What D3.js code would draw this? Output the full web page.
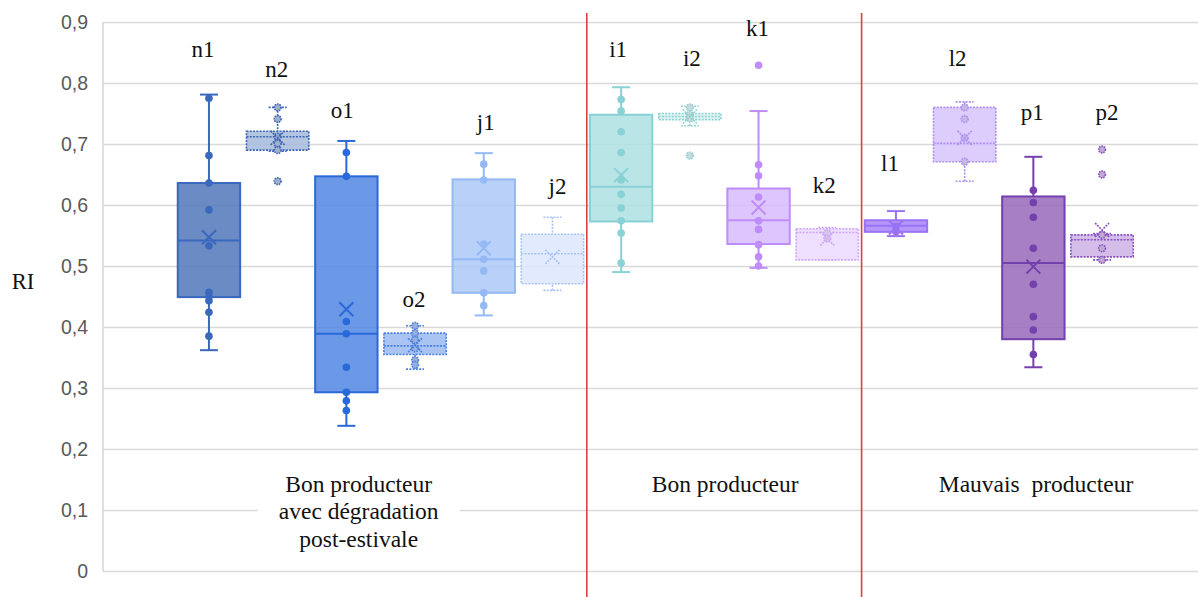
<!DOCTYPE html>
<html>
<head>
<meta charset="utf-8">
<script src="https://cdn.jsdelivr.net/npm/d3@7"></script>
<style>
  html, body { margin: 0; padding: 0; background: #ffffff; }
  svg { display: block; }
  .serif { font-family: "Liberation Serif", "Times New Roman", Times, "DejaVu Serif", serif; fill: #111; }
  .sans { font-family: "Liberation Sans", Arial, Helvetica, sans-serif; }
</style>
</head>
<body>
<svg id="chart" width="1198" height="597"></svg>
<script>
// ---------------- data ----------------
const ids = ["n1","n2","o1","o2","j1","j2","i1","i2","k1","k2","l1","l2","p1","p2"];
const groupNames = [
  ["Bon producteur", "avec dégradation", "post-estivale"],
  ["Bon producteur"],
  ["Mauvais  producteur"]
];
const groupOf = [0,0,0,0,0,0,1,1,1,1,2,2,2,2];
const whiskerLow  = [0.362, 0.688, 0.238, 0.331, 0.419, 0.460, 0.490, 0.730, 0.497, 0.510, 0.549, 0.639, 0.334, 0.510];
const q1          = [0.449, 0.690, 0.293, 0.355, 0.456, 0.471, 0.573, 0.740, 0.536, 0.510, 0.556, 0.671, 0.380, 0.515];
const medians     = [0.542, 0.712, 0.389, 0.369, 0.511, 0.520, 0.630, 0.745, 0.575, 0.555, 0.566, 0.701, 0.505, 0.543];
const q3          = [0.636, 0.721, 0.647, 0.390, 0.642, 0.552, 0.748, 0.750, 0.627, 0.561, 0.575, 0.760, 0.614, 0.551];
const whiskerHigh = [0.781, 0.760, 0.705, 0.402, 0.685, 0.580, 0.793, 0.762, 0.754, 0.563, 0.590, 0.769, 0.679, 0.553];
const means       = [0.547, 0.710, 0.429, 0.370, 0.529, 0.515, 0.649, 0.745, 0.596, 0.545, 0.563, 0.710, 0.499, 0.559];
const points = [
  [0.775, 0.681, 0.636, 0.592, 0.533, 0.457, 0.450, 0.443, 0.424, 0.385],
  [0.760, 0.741, 0.712, 0.701, 0.690, 0.639],
  [0.686, 0.647, 0.409, 0.389, 0.334, 0.293, 0.279, 0.263],
  [0.402, 0.390, 0.379, 0.365, 0.346, 0.338],
  [0.667, 0.641, 0.536, 0.511, 0.492, 0.456, 0.435],
  [],
  [0.773, 0.754, 0.720, 0.686, 0.641, 0.6175, 0.595, 0.574, 0.554, 0.505],
  [0.760, 0.748, 0.742, 0.681],
  [0.829, 0.666, 0.648, 0.613, 0.574, 0.560, 0.535, 0.515, 0.500],
  [0.554, 0.545],
  [0.565, 0.556],
  [0.760, 0.741, 0.710, 0.671],
  [0.624, 0.604, 0.580, 0.529, 0.470, 0.417, 0.395, 0.355],
  [0.691, 0.650, 0.551, 0.529, 0.510]
];
const tickValues = [0, 0.1, 0.2, 0.3, 0.4, 0.5, 0.6, 0.7, 0.8, 0.9];
const tickLabels = ["0", "0,1", "0,2", "0,3", "0,4", "0,5", "0,6", "0,7", "0,8", "0,9"];
const yTitle = "RI";

// ---------------- annotation placement (label value height, dx) ----------------
const labelAt = [0.842, 0.810, 0.742, 0.433, 0.723, 0.618, 0.842, 0.828, 0.877, 0.620, 0.655, 0.828, 0.740, 0.740];
const labelDx = [-6, -1, -4, -1, 2, 5, -3, 2, -1, -3, -6, -7, -1, 5];
const groupLabelDx = [-22, 1, 37];

// ---------------- styles ----------------
const fillObs   = ["#6a8bc4","#b3c3e2","#6b99e8","#a9c3f2","#b9d1f9","#e1ebfd","#b9e5e7","#dff3f3","#ddc6fd","#eedffe","#b597f9","#dccdfd","#a77fc4","#d5bde9"];
const strokeCol = ["#3a68bd","#3a64b4","#2a69da","#4a80e2","#95b9f5","#a6c3f5","#88d1d4","#8ed2d4","#bf8cf9","#cfa6fb","#9a72f5","#ad8ef2","#7440ad","#8650bf"];
const dotted    = [false,true,false,true,false,true,false,true,false,true,false,true,false,true];
const fillAlpha = 0.85;

// ---------------- layout ----------------
const W = 1198, H = 597;
const plotLeft = 103, plotRight = 1198, plotTop = 22, plotBottom = 571;
const svg = d3.select("#chart");

const y = d3.scaleLinear().domain([0, 0.9]).range([plotBottom, plotTop]);
const x = d3.scaleBand().domain(ids).range([174.6, 1136.4]).paddingInner(0).paddingOuter(0);
const step = x.step();
const boxW = step * 0.908;
const capW = 18;
const cx = id => x(id) + step / 2;

function baseColor(obs) {
  const c = d3.rgb(obs);
  const f = v => Math.max(0, Math.min(255, (v - 255 * (1 - fillAlpha)) / fillAlpha));
  return d3.rgb(f(c.r), f(c.g), f(c.b)).formatHex();
}

// gridlines + tick labels via axis
const axis = d3.axisLeft(y)
  .tickValues(tickValues)
  .tickFormat((d, i) => tickLabels[i])
  .tickSizeInner(-(plotRight - plotLeft))
  .tickSizeOuter(0)
  .tickPadding(15);
const gAxis = svg.append("g").attr("transform", `translate(${plotLeft},0)`).call(axis);
gAxis.attr("font-family", null).attr("font-size", null);
gAxis.select(".domain").remove();
gAxis.selectAll(".tick line").attr("stroke", "#d9d9d9").attr("stroke-width", 1.6);
gAxis.selectAll(".tick text")
  .attr("class", "sans")
  .attr("fill", "#595959")
  .attr("font-size", 19.5);

// left border of plot area
svg.append("line")
  .attr("x1", plotLeft).attr("x2", plotLeft)
  .attr("y1", y(0.9)).attr("y2", y(0))
  .attr("stroke", "#d9d9d9").attr("stroke-width", 1.6);

// y title
svg.append("text").text(yTitle)
  .attr("class", "serif")
  .attr("x", 23).attr("y", 289)
  .attr("text-anchor", "middle")
  .attr("font-size", 22.5);

// group separators (red)
[ids[6], ids[10]].forEach(id => {
  svg.append("line")
    .attr("x1", x(id)).attr("x2", x(id))
    .attr("y1", 13).attr("y2", H)
    .attr("stroke", "#d9403f").attr("stroke-width", 1.6);
});

// group labels
groupNames.forEach((lines, gi) => {
  const members = ids.filter((id, i) => groupOf[i] === gi);
  const gx = (cx(members[0]) + cx(members[members.length - 1])) / 2 + groupLabelDx[gi];
  const lineH = 27.5;
  const baseY = 491.5;
  if (lines.length > 1) {
    svg.append("rect")
      .attr("x", gx - 101).attr("y", 461)
      .attr("width", 202).attr("height", 100)
      .attr("fill", "#ffffff");
  }
  const t = svg.append("text")
    .attr("class", "serif")
    .attr("text-anchor", "middle")
    .attr("font-size", 23.5)
    .attr("xml:space", "preserve");
  lines.forEach((ln, li) => {
    t.append("tspan").attr("x", gx).attr("y", baseY + li * lineH).text(ln);
  });
});

// boxes
ids.forEach((id, i) => {
  const g = svg.append("g");
  const c = cx(id);
  const sc = strokeCol[i];
  const dash = dotted[i] ? "2,1.3" : null;
  const sw = dotted[i] ? 1.6 : 2;

  // whiskers
  [[whiskerHigh[i], q3[i]], [whiskerLow[i], q1[i]]].forEach(([w, q]) => {
    g.append("line").attr("x1", c).attr("x2", c).attr("y1", y(w)).attr("y2", y(q))
      .attr("stroke", sc).attr("stroke-width", sw).attr("stroke-dasharray", dash);
    g.append("line").attr("x1", c - capW / 2).attr("x2", c + capW / 2).attr("y1", y(w)).attr("y2", y(w))
      .attr("stroke", sc).attr("stroke-width", sw).attr("stroke-dasharray", dash);
  });

  // box
  g.append("rect")
    .attr("x", c - boxW / 2).attr("y", y(q3[i]))
    .attr("width", boxW).attr("height", Math.max(1, y(q1[i]) - y(q3[i])))
    .attr("fill", baseColor(fillObs[i])).attr("fill-opacity", fillAlpha)
    .attr("stroke", sc).attr("stroke-width", sw).attr("stroke-dasharray", dash);

  // median
  g.append("line")
    .attr("x1", c - boxW / 2).attr("x2", c + boxW / 2)
    .attr("y1", y(medians[i])).attr("y2", y(medians[i]))
    .attr("stroke", sc).attr("stroke-width", sw).attr("stroke-dasharray", dash);

  // points
  g.selectAll("circle.pt").data(points[i]).join("circle")
    .attr("class", "pt")
    .attr("cx", c).attr("cy", d => y(d))
    .attr("r", dotted[i] ? 3.4 : 3.8)
    .attr("fill", dotted[i] ? d3.color(fillObs[i]).darker(0.3) : sc)
    .attr("stroke", sc)
    .attr("stroke-width", dotted[i] ? 1.6 : 0)
    .attr("stroke-dasharray", dotted[i] ? "1.5,1" : null);

  // mean X
  const m = y(means[i]), s = 7;
  g.append("path")
    .attr("d", `M${c - s},${m - s}L${c + s},${m + s}M${c - s},${m + s}L${c + s},${m - s}`)
    .attr("stroke", sc).attr("stroke-width", sw).attr("fill", "none")
    .attr("stroke-dasharray", dotted[i] ? "2,1" : null);

  // series label
  svg.append("text").text(id)
    .attr("class", "serif")
    .attr("x", c + labelDx[i]).attr("y", y(labelAt[i]))
    .attr("text-anchor", "middle")
    .attr("font-size", 23);
});
</script>
</body>
</html>
